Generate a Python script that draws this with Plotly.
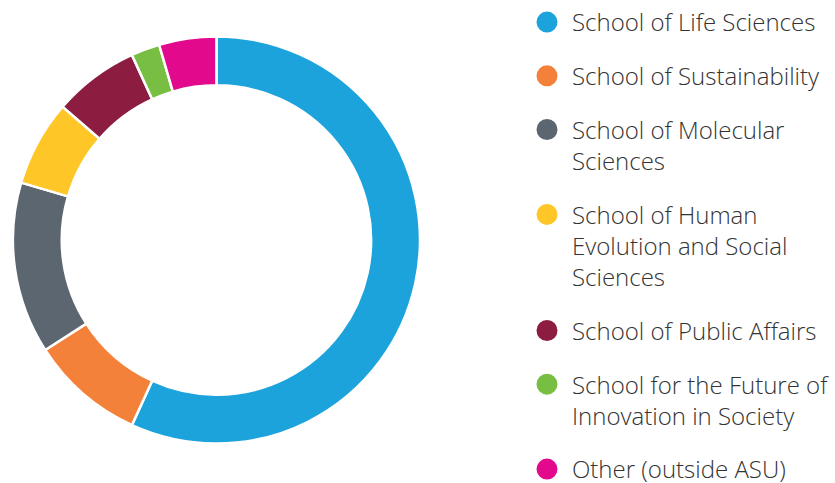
import plotly.graph_objects as go

categories = [
    "School of Life Sciences",
    "School of Sustainability",
    "School of Molecular<br>Sciences",
    "School of Human<br>Evolution and Social<br>Sciences",
    "School of Public Affairs",
    "School for the Future of<br>Innovation in Society",
    "Other (outside ASU)",
]
values = [25, 4, 6, 3, 3, 1, 2]
colors = ["#1CA3DC", "#F4813A", "#5C6670", "#FFC627", "#8C1D40", "#78BE43", "#E2098C"]

W, H = 835, 483
fig = go.Figure()
fig.add_trace(go.Pie(
    labels=categories, values=values, sort=False, direction="clockwise", rotation=0,
    hole=0.76, marker=dict(colors=colors, line=dict(color="white", width=2.5)),
    textinfo="none", showlegend=False, hoverinfo="label+percent",
    domain=dict(x=[13 / W, 423 / W], y=[38 / H, 448 / H]),
))
for i, (c, col) in enumerate(zip(categories, colors)):
    fig.add_trace(go.Scatter(
        x=[None], y=[None], mode="markers", name=c, legendgroup=str(i),
        marker=dict(size=16, color=col, symbol="circle", line=dict(color=col, width=5)),
    ))

fig.update_layout(
    width=W, height=H, margin=dict(l=0, r=0, t=0, b=0),
    paper_bgcolor="white", plot_bgcolor="white",
    xaxis=dict(visible=False), yaxis=dict(visible=False),
    legend=dict(
        x=526 / W, xanchor="left", y=1.0, yanchor="top",
        font=dict(family="Open Sans", size=24, color="#333333", weight=300),
        valign="top", tracegroupgap=19.5, itemclick=False, itemwidth=40,
        bgcolor="rgba(0,0,0,0)", maxheight=700,
    ),
)
fig.write_html("out.html", config={"displayModeBar": False},
               post_script="document.body.style.margin='0px';")
